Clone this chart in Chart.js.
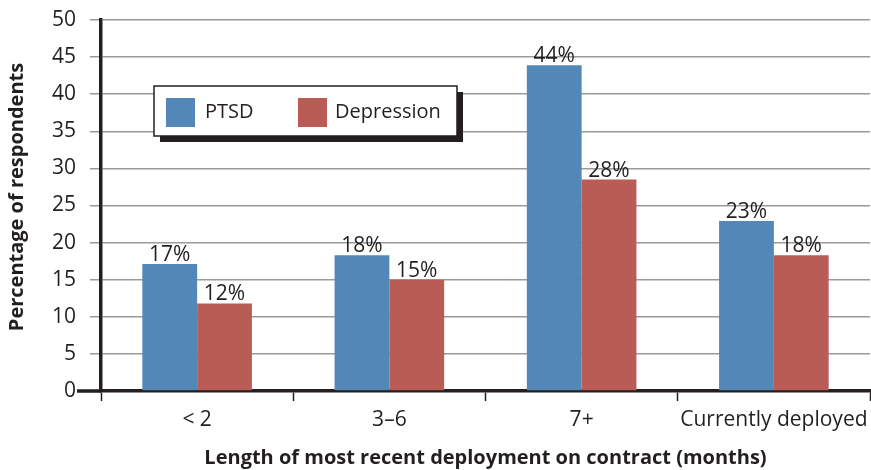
<!DOCTYPE html>
<html>
<head>
<meta charset="utf-8">
<script src="https://cdn.jsdelivr.net/npm/chart.js@4.4.1/dist/chart.umd.min.js"></script>
<style>
  html, body { margin: 0; padding: 0; background: #ffffff; }
  #c { display: block; }
</style>
</head>
<body>
<canvas id="c" width="871" height="470"></canvas>
<script>
const categories = ['< 2', '3\u20136', '7+', 'Currently deployed'];
const ptsdValues = [17.1, 18.3, 43.9, 22.9];
const depressionValues = [11.8, 15.0, 28.5, 18.3];
const ptsdLabels = ['17%', '18%', '44%', '23%'];
const depressionLabels = ['12%', '15%', '28%', '18%'];
const seriesNames = ['PTSD', 'Depression'];
const yTicks = [0, 5, 10, 15, 20, 25, 30, 35, 40, 45, 50];
const yTitle = 'Percentage of respondents';
const xTitle = 'Length of most recent deployment on contract (months)';

const FONT = '"Open Sans", "Noto Sans", sans-serif';
const TEXT = '#231f20';
const BLUE = '#5287b8';
const RED = '#b95c56';

const valueLabelPlugin = {
  id: 'valueLabels',
  afterDatasetsDraw(chart) {
    const ctx = chart.ctx;
    const all = [ptsdLabels, depressionLabels];
    ctx.save();
    ctx.font = '21px ' + FONT;
    ctx.fillStyle = TEXT;
    ctx.textAlign = 'center';
    ctx.textBaseline = 'alphabetic';
    chart.data.datasets.forEach((ds, di) => {
      const meta = chart.getDatasetMeta(di);
      meta.data.forEach((el, i) => {
        ctx.fillText(all[di][i], el.x, el.y - 3);
      });
    });
    ctx.restore();
  }
};

const legendBoxPlugin = {
  id: 'legendBox',
  afterDraw(chart) {
    const ctx = chart.ctx;
    const x = 154, y = 86, w = 303, h = 50;
    ctx.save();
    ctx.fillStyle = TEXT;
    ctx.fillRect(x + 6, y + 6, w, h);
    ctx.fillStyle = '#ffffff';
    ctx.fillRect(x, y, w, h);
    ctx.strokeStyle = TEXT;
    ctx.lineWidth = 1.5;
    ctx.strokeRect(x, y, w, h);
    const items = [{sx: 166, tx: 205}, {sx: 298, tx: 335}];
    ctx.font = '20px ' + FONT;
    ctx.textBaseline = 'middle';
    ctx.textAlign = 'left';
    chart.data.datasets.forEach((ds, i) => {
      ctx.fillStyle = ds.backgroundColor;
      ctx.fillRect(items[i].sx, y + 12, 29, 29);
      ctx.fillStyle = TEXT;
      ctx.fillText(ds.label, items[i].tx, y + 26);
    });
    // zero line extension to the left of the axis
    const ys = chart.scales.y;
    const y0 = ys.getPixelForValue(0);
    ctx.strokeStyle = TEXT;
    ctx.lineWidth = 3.5;
    ctx.beginPath();
    ctx.moveTo(77, y0);
    ctx.lineTo(chart.chartArea.left, y0);
    ctx.stroke();
    // y axis title
    ctx.font = 'bold 20px ' + FONT;
    ctx.fillStyle = TEXT;
    ctx.textAlign = 'center';
    ctx.textBaseline = 'middle';
    ctx.translate(17, 197);
    ctx.rotate(-Math.PI / 2);
    ctx.fillText(yTitle, 0, 0);
    ctx.restore();
  }
};

new Chart(document.getElementById('c'), {
  type: 'bar',
  data: {
    labels: categories,
    datasets: [
      { label: seriesNames[0], data: ptsdValues, backgroundColor: BLUE },
      { label: seriesNames[1], data: depressionValues, backgroundColor: RED }
    ]
  },
  options: {
    responsive: false,
    devicePixelRatio: 1,
    animation: false,
    layout: { padding: { top: 20, right: 1, left: 0, bottom: 0 } },
    datasets: { bar: { categoryPercentage: 0.57, barPercentage: 1.0 } },
    plugins: { legend: { display: false }, tooltip: { enabled: false } },
    scales: {
      x: {
        grid: {
          offset: true,
          drawOnChartArea: false,
          drawTicks: true,
          tickLength: 10,
          tickColor: TEXT,
          tickWidth: 1.5
        },
        border: { display: true, color: TEXT, width: 3.5 },
        ticks: { color: TEXT, font: { family: FONT, size: 21 }, padding: 6,
                 maxRotation: 0, minRotation: 0, autoSkip: false },
        title: {
          display: true,
          text: xTitle,
          color: TEXT,
          font: { family: FONT, size: 20, weight: 'bold' },
          padding: { top: 0, bottom: 0 }
        },
        afterFit(scale) { scale.height = 79; scale.paddingLeft = 0; scale.paddingRight = 0; }
      },
      y: {
        min: 0, max: 50,
        afterBuildTicks(scale) { scale.ticks = yTicks.map(v => ({ value: v })); },
        grid: { color: '#9a9a9a', lineWidth: 1.5, tickLength: 11, tickColor: '#9a9a9a' },
        border: { display: true, color: TEXT, width: 3.5 },
        ticks: { color: TEXT, font: { family: FONT, size: 21 }, padding: 14 },
        title: { display: false },
        afterFit(scale) { scale.width = 101; scale.paddingTop = 0; scale.paddingBottom = 0; }
      }
    }
  },
  plugins: [valueLabelPlugin, legendBoxPlugin]
});
</script>
</body>
</html>
